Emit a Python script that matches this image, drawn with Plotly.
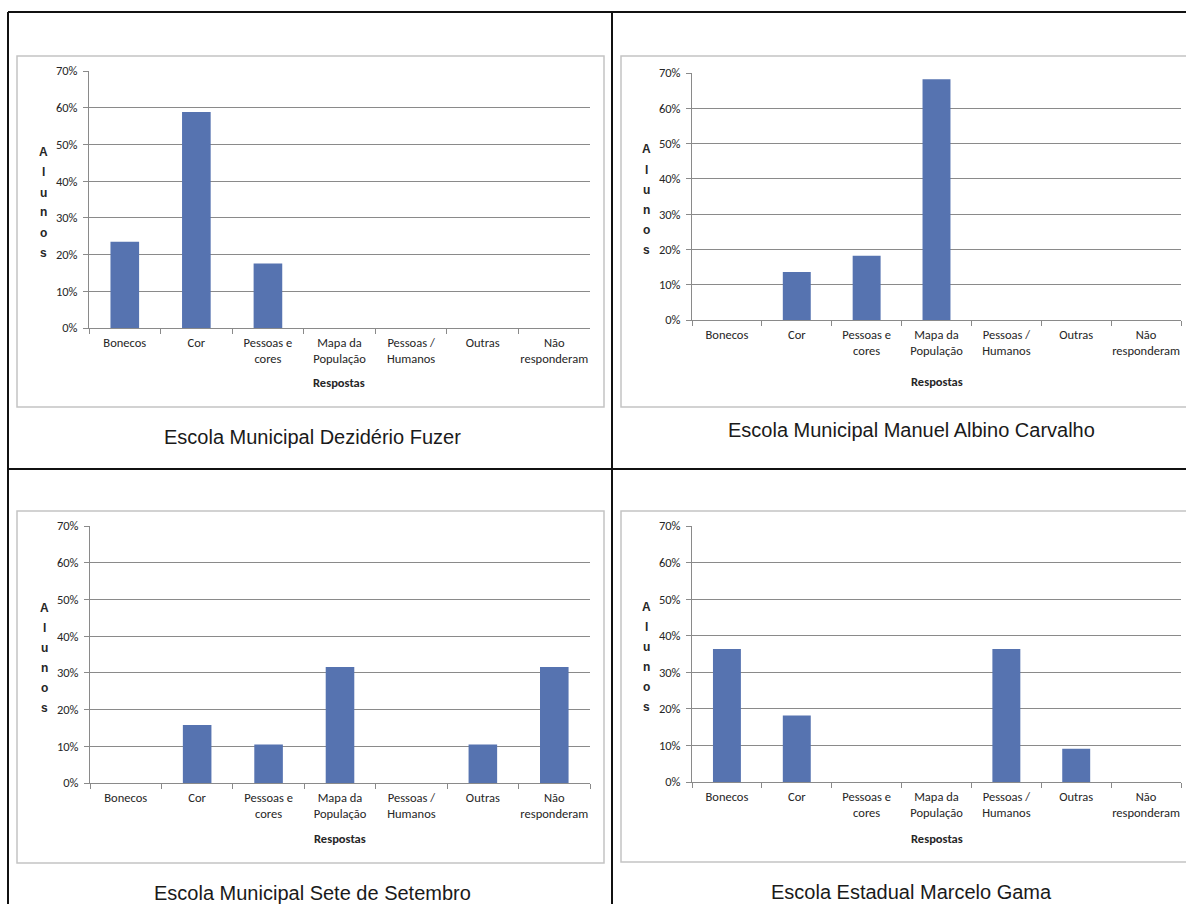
import plotly.graph_objects as go

# figure size; the page adds an 8px body margin on every side
W, H = 1186, 904

# --- data -------------------------------------------------------------
categorias = [
    "Bonecos",
    "Cor",
    "Pessoas e<br>cores",
    "Mapa da<br>População",
    "Pessoas /<br>Humanos",
    "Outras",
    "Não<br>responderam",
]

escolas = [
    "Escola Municipal Dezidério Fuzer",
    "Escola Municipal Manuel Albino Carvalho",
    "Escola Municipal Sete de Setembro",
    "Escola Estadual Marcelo Gama",
]

# percentage of students per answer
dezidério_fuzer = [23.5, 58.8, 17.6, 0, 0, 0, 0]
manuel_albino_carvalho = [0, 13.6, 18.2, 68.2, 0, 0, 0]
sete_de_setembro = [0, 15.8, 10.5, 31.6, 0, 10.5, 31.6]
marcelo_gama = [36.4, 18.2, 0, 0, 36.4, 9.1, 0]

series = [dezidério_fuzer, manuel_albino_carvalho, sete_de_setembro, marcelo_gama]

y_ticks = [0, 10, 20, 30, 40, 50, 60, 70]
y_tick_labels = ["0%", "10%", "20%", "30%", "40%", "50%", "60%", "70%"]
titulo_y = "Alunos"
titulo_x = "Respostas"

# --- layout geometry (pixels) ----------------------------------------
# plot area (left, top, right, bottom), chart frame, title centre, x-title y
paineis = [
    dict(plot=(89, 71, 590, 328), caixa=(17, 56, 604, 407), titulo=(312, 437), resp=383),
    dict(plot=(692, 73, 1181, 320), caixa=(621, 56, 1200, 407), titulo=(912, 430), resp=381),
    dict(plot=(90, 526, 590, 783), caixa=(17, 511, 604, 863), titulo=(312, 893), resp=838),
    dict(plot=(692, 526, 1181, 782), caixa=(621, 511, 1200, 862), titulo=(912, 892), resp=838),
]


def px(x):
    return x / W


def py(y):
    return 1 - y / H


AZUL = "#5673B0"
CINZA = "#8a8a8a"
TXT = "#262626"
FONTE_EIXO = "Carlito, Roboto, sans-serif"
FONTE_TITULO = "Liberation Sans, Arial, sans-serif"
TAM_EIXO = 12.5

fig = go.Figure()
layout = dict(
    width=W,
    height=H,
    margin=dict(l=0, r=0, t=0, b=0),
    paper_bgcolor="white",
    plot_bgcolor="white",
    showlegend=False,
    bargap=0.6,
)
annotations = []
shapes = []

for i, (valores, painel) in enumerate(zip(series, paineis)):
    k = "" if i == 0 else str(i + 1)
    l, t, r, b = painel["plot"]
    fig.add_trace(
        go.Bar(
            x=categorias,
            y=valores,
            xaxis="x" + k,
            yaxis="y" + k,
            marker=dict(color=AZUL, line=dict(width=0)),
            hoverinfo="x+y",
        )
    )
    layout["xaxis" + k] = dict(
        domain=[px(l), px(r)],
        anchor="y" + k,
        type="category",
        tickson="boundaries",
        ticks="outside",
        ticklen=5,
        tickcolor=CINZA,
        tickangle=0,
        showline=True,
        linecolor=CINZA,
        linewidth=1,
        showgrid=False,
        tickfont=dict(family=FONTE_EIXO, size=TAM_EIXO, color=TXT),
        ticklabelstandoff=3,
        automargin=False,
        fixedrange=True,
    )
    layout["yaxis" + k] = dict(
        domain=[py(b), py(t)],
        anchor="x" + k,
        range=[0, 70],
        tickmode="array",
        tickvals=y_ticks,
        ticktext=y_tick_labels,
        ticks="outside",
        ticklen=5,
        tickcolor=CINZA,
        showline=True,
        linecolor=CINZA,
        linewidth=1,
        showgrid=True,
        gridcolor=CINZA,
        gridwidth=1,
        zeroline=False,
        tickfont=dict(family=FONTE_EIXO, size=TAM_EIXO, color=TXT),
        ticklabelstandoff=3,
        automargin=False,
        fixedrange=True,
    )

    # vertical, stacked y-axis title
    cy = (t + b) / 2 + 3
    n = len(titulo_y)
    for j, letra in enumerate(titulo_y):
        annotations.append(
            dict(
                text="<b>%s</b>" % letra,
                x=px(l - 46),
                y=py(cy + (j - (n - 1) / 2) * 20),
                xref="paper",
                yref="paper",
                showarrow=False,
                xanchor="center",
                yanchor="middle",
                font=dict(family=FONTE_TITULO, size=12, color=TXT),
            )
        )

    # x-axis title
    annotations.append(
        dict(
            text="<b>%s</b>" % titulo_x,
            x=px((l + r) / 2),
            y=py(painel["resp"]),
            xref="paper",
            yref="paper",
            showarrow=False,
            xanchor="center",
            yanchor="middle",
            font=dict(family=FONTE_EIXO, size=TAM_EIXO, color=TXT),
        )
    )

    # school name below each chart
    tx, ty = painel["titulo"]
    annotations.append(
        dict(
            text=escolas[i],
            x=px(tx),
            y=py(ty),
            xref="paper",
            yref="paper",
            showarrow=False,
            xanchor="center",
            yanchor="middle",
            font=dict(family=FONTE_TITULO, size=20, color="#1a1a1a"),
        )
    )

    # light frame around each chart
    x0, y0, x1, y1 = painel["caixa"]
    shapes.append(
        dict(
            type="rect",
            xref="paper",
            yref="paper",
            x0=px(x0),
            x1=px(x1),
            y0=py(y1),
            y1=py(y0),
            line=dict(color="#c4c4c4", width=1.5),
            layer="below",
        )
    )

# black grid separating the four charts
for x0, y0, x1, y1 in [
    (8, 12, 1200, 12),
    (8, 469, 1200, 469),
    (8, 12, 8, 920),
    (612, 12, 612, 920),
]:
    shapes.append(
        dict(
            type="line",
            xref="paper",
            yref="paper",
            x0=px(x0),
            x1=px(x1),
            y0=py(y0),
            y1=py(y1),
            line=dict(color="#111111", width=2),
        )
    )

layout["annotations"] = annotations
layout["shapes"] = shapes
fig.update_layout(**layout)

fig.write_html("out.html")
